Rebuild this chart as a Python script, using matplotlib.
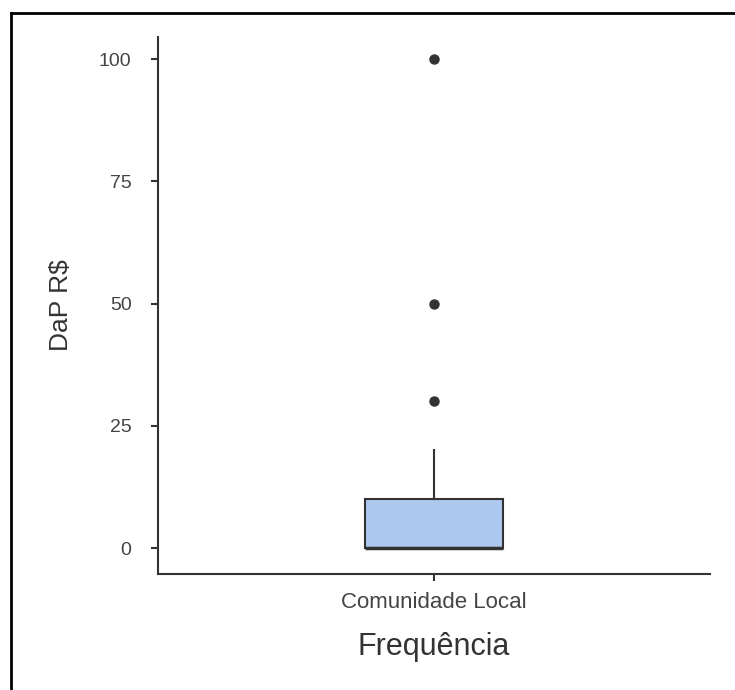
import matplotlib
matplotlib.use('Agg')
import matplotlib.pyplot as plt
from matplotlib.lines import Line2D

# box summary
categories = ['Comunidade Local']
q1 = [0]
median = [0]
q3 = [10]
whisker_low = [0]
whisker_high = [20]
outliers = [[30, 50, 100]]
y_ticks = [0, 25, 50, 75, 100]

plt.rcParams['font.family'] = ['Liberation Sans', 'DejaVu Sans']

fig = plt.figure(figsize=(7.35, 6.9), dpi=100)
ax = fig.add_axes([158 / 735, 1 - 574 / 690, 552 / 735, 537 / 690])

stats = []
for i, name in enumerate(categories):
    stats.append(dict(label=name, q1=q1[i], med=median[i], q3=q3[i],
                      whislo=whisker_low[i], whishi=whisker_high[i],
                      fliers=outliers[i]))

edge = '#333333'
ax.bxp(stats, positions=[1], widths=0.3, patch_artist=True, showcaps=False,
       boxprops=dict(facecolor='#aec9f0', edgecolor=edge, linewidth=1.5),
       medianprops=dict(color=edge, linewidth=2.5),
       whiskerprops=dict(color=edge, linewidth=1.5),
       flierprops=dict(marker='o', markerfacecolor=edge, markeredgecolor=edge,
                       markersize=6.5))

ax.set_xlim(0.4, 1.6)
ax.set_ylim(-5.3, 104.5)
ax.set_yticks(y_ticks)
ax.set_xticks([1])
ax.set_xticklabels(categories)

for s in ['top', 'right']:
    ax.spines[s].set_visible(False)
for s in ['left', 'bottom']:
    ax.spines[s].set_color('#333333')
    ax.spines[s].set_linewidth(1.5)

ax.tick_params(axis='both', colors='#333333', labelcolor='#444444',
               length=5, width=1.5)
ax.tick_params(axis='y', labelsize=14, pad=14)
ax.tick_params(axis='x', labelsize=16, pad=8)

ax.set_ylabel('DaP R$', fontsize=19, color='#333333', labelpad=19)
ax.set_xlabel('Frequência', fontsize=22, color='#333333', labelpad=14)

# frame lines on the left and top of the image
fig.add_artist(Line2D([11 / 735, 11 / 735], [0, 1 - 13 / 690], color='black',
                      linewidth=2, transform=fig.transFigure))
fig.add_artist(Line2D([11 / 735, 1], [1 - 13 / 690, 1 - 13 / 690], color='black',
                      linewidth=2, transform=fig.transFigure))

fig.savefig('out.png', dpi=100)
